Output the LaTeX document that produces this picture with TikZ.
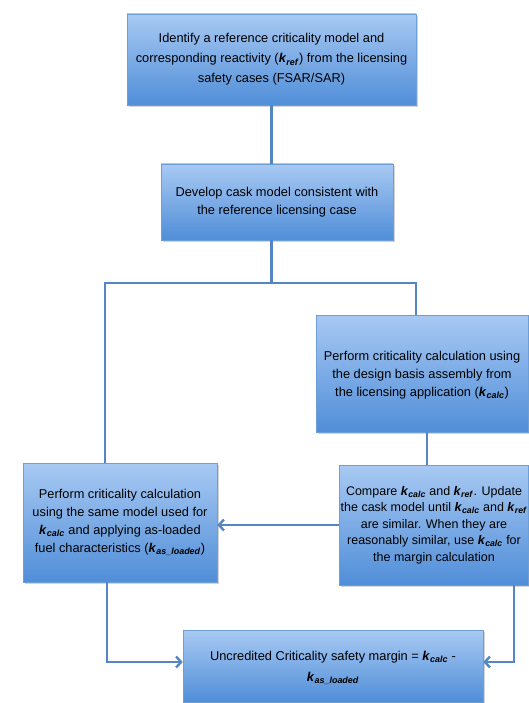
\documentclass[tikz,border=0pt]{standalone}
\usepackage{fontspec}
\setmainfont{Liberation Sans}
\usetikzlibrary{arrows.meta, shadows}

\definecolor{boxtop}{RGB}{168,201,243}
\definecolor{boxbot}{RGB}{80,142,216}
\definecolor{boxline}{RGB}{110,158,214}
\definecolor{linkblue}{RGB}{84,134,196}

\newcommand{\kval}[1]{\textbf{\textit{k}}\textsubscript{\textbf{\textit{#1}}}}

\begin{document}
\begin{tikzpicture}[
    x=1pt, y=-1pt,
    box/.style={rectangle, draw=boxline, line width=0.6pt, top color=boxtop, bottom color=boxbot,
        drop shadow={opacity=0.35, shadow xshift=1.5pt, shadow yshift=-2pt},
        align=center, inner sep=0pt, font=\fontsize{12.8}{18}\selectfont},
    conn/.style={draw=linkblue, line width=2.8pt},
    arrow/.style={conn, -{Straight Barb[length=5pt, width=11pt, line width=2.4pt]}}
]
\useasboundingbox (0,0) rectangle (529,703);

% Nodes
\node[box, minimum width=289pt, minimum height=91pt, font=\fontsize{12.8}{20}\selectfont] (ref) at (271.5,59.5)
    {Identify a reference criticality model and\\corresponding reactivity (\kval{ref}) from the licensing\\safety cases (FSAR/SAR)};
\node[box, minimum width=232pt, minimum height=76pt] (cask) at (277,202)
    {Develop cask model consistent with\\the reference licensing case};
\node[box, minimum width=212pt, minimum height=117pt, text depth=-8pt] (design) at (422,373.5)
    {Perform criticality calculation using\\the design basis assembly from\\the licensing application (\kval{calc})};
\node[box, minimum width=194pt, minimum height=119pt] (asload) at (120,522.5)
    {Perform criticality calculation\\using the same model used for\\\kval{calc} and applying as-loaded\\fuel characteristics (\kval{as\_loaded})};
\node[box, minimum width=189pt, minimum height=120pt, font=\fontsize{12.5}{16.5}\selectfont] (compare) at (434,525)
    {Compare \kval{calc} and \kval{ref}. Update\\the cask model until \kval{calc} and \kval{ref}\\are similar. When they are\\reasonably similar, use \kval{calc} for\\the margin calculation};
\node[box, minimum width=300pt, minimum height=72pt, font=\fontsize{12.8}{21}\selectfont, text depth=-6pt] (result) at (333,666)
    {Uncredited Criticality safety margin = \kval{calc} -\\\kval{as\_loaded}};

\coordinate (lefttop) at (105,283);
\coordinate (righttop) at (416,283);

% Connections
\draw[conn] (ref.south) -- (ref.south |- cask.north);
\draw[conn] (ref.south |- cask.south) -- (ref.south |- lefttop);
\draw[conn] (lefttop |- asload.north) -- (lefttop) -- (righttop) -- (righttop |- design.north);
\draw[conn] ([xshift=5pt]design.south) -- ([xshift=5pt]design.south |- compare.north);
\draw[arrow] (compare.west) -- (compare.west -| asload.east);
\draw[arrow] ([xshift=-13pt]asload.south) |- ([yshift=4pt]result.west);
\draw[arrow] ([xshift=80pt]compare.south) |- ([yshift=4pt]result.east);

\end{tikzpicture}
\end{document}
